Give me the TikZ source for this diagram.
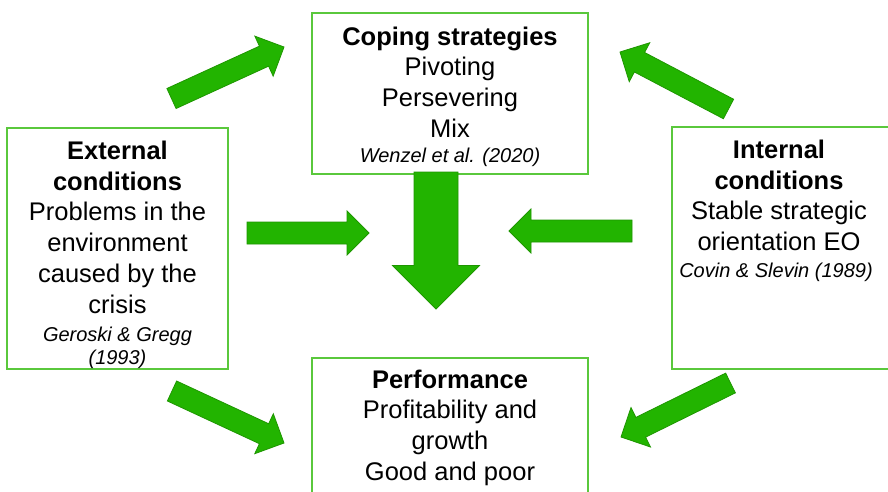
\documentclass[tikz,border=0pt]{standalone}
\usepackage{fontspec}
\setmainfont{Liberation Sans}
\usetikzlibrary{calc}

\definecolor{arrowfill}{RGB}{34,180,0}
\definecolor{arrowline}{RGB}{30,150,0}
\definecolor{boxline}{RGB}{90,200,60}

% Block arrow from tail centre #3 to tip #4;
% #1 = half shaft width, #2 = half head width (also head length)
\newcommand{\greenarrow}[4]{%
  \draw[blockarrow]
    ($(#3)!#1!90:(#4)$) --
    ($(#4)!#2!(#3)!#1!90:(#4)$) --
    ($(#4)!#2!(#3)!#2!90:(#4)$) --
    (#4) --
    ($(#4)!#2!(#3)!#2!-90:(#4)$) --
    ($(#4)!#2!(#3)!#1!-90:(#4)$) --
    ($(#3)!#1!-90:(#4)$) -- cycle;}

\begin{document}
\begin{tikzpicture}[x=1pt,y=-1pt,
  box/.style={draw=boxline, line width=1.3pt, fill=white, inner sep=0pt},
  body/.style={align=center, inner sep=0pt, anchor=north,
               font=\fontsize{25.5}{30.8}\selectfont},
  cite/.style={align=center, inner sep=0pt,
               font=\fontsize{20}{23}\selectfont\itshape},
  blockarrow/.style={fill=arrowfill, draw=arrowline, line width=0.8pt, line join=miter}]
\useasboundingbox (0,0) rectangle (888,492);
\clip (0,0) rectangle (888,492);
\fill[white] (0,0) rectangle (888,492);

% boxes
\node[box, minimum width=276pt, minimum height=161pt] (coping) at (450,93.5) {};
\node[box, minimum width=221pt, minimum height=241pt] (external) at (117.5,248.5) {};
\node[box, minimum width=228pt, minimum height=242pt] (internal) at (786,248) {};
\node[box, minimum width=276pt, minimum height=152pt] (performance) at (450,434) {};

% box texts
\node[body] (copingtext) at (450,26.5)
  {\textbf{Coping strategies}\\Pivoting\\Persevering\\Mix};
\node[cite, anchor=base] (copingcite) at (450,162) {Wenzel et al. (2020)};

\node[body] (externaltext) at (117.5,140.7)
  {\textbf{External}\\\textbf{conditions}\\Problems in the\\environment\\caused by the\\crisis};
\node[cite, anchor=north] (externalcite) at (117.5,327.3) {Geroski \& Gregg\\(1993)};

\node[body] (internaltext) at (779,139.7)
  {\textbf{Internal}\\\textbf{conditions}\\Stable strategic\\orientation EO};
\node[cite, anchor=base] (internalcite) at (776,277) {Covin \& Slevin (1989)};

\node[body] (performancetext) at (450,369.5)
  {\textbf{Performance}\\Profitability and\\growth\\Good and poor};

% arrow end points
\coordinate (extupT) at (171.5,98.5);  \coordinate (extupH) at (284,47);
\coordinate (intupT) at (728.5,109);   \coordinate (intupH) at (620,52);
\coordinate (downT)  at (436,172);     \coordinate (downH)  at (436,309);
\coordinate (extinT) at (247,233);     \coordinate (extinH) at (369,233);
\coordinate (intinT) at (632,231);     \coordinate (intinH) at (509,231);
\coordinate (extdnT) at (172,391);     \coordinate (extdnH) at (284,443);
\coordinate (intdnT) at (730.5,383);   \coordinate (intdnH) at (621,437);

% arrows
\greenarrow{11pt}{22pt}{extupT}{extupH}
\greenarrow{11pt}{22pt}{intupT}{intupH}
\greenarrow{22pt}{43.5pt}{downT}{downH}
\greenarrow{11pt}{22pt}{extinT}{extinH}
\greenarrow{11pt}{22pt}{intinT}{intinH}
\greenarrow{11pt}{22pt}{extdnT}{extdnH}
\greenarrow{11pt}{22pt}{intdnT}{intdnH}
\end{tikzpicture}
\end{document}
